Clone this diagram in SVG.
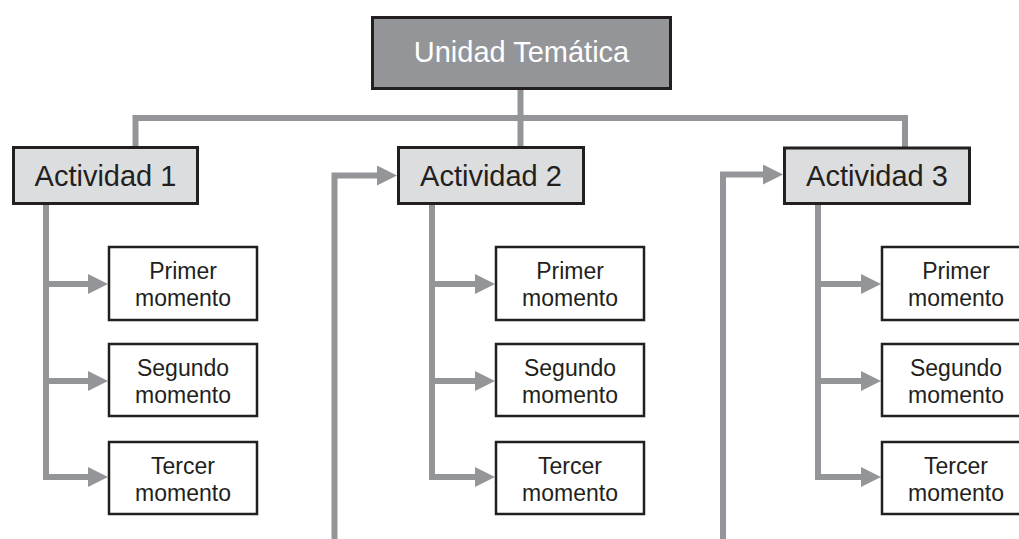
<svg xmlns="http://www.w3.org/2000/svg" width="1019" height="539" viewBox="0 0 1019 539">
<defs>
<style>
.ln{fill:none;stroke:#939598;stroke-width:6;stroke-linejoin:miter;stroke-linecap:butt}
.top{fill:#939598;stroke:#231f20;stroke-width:3}
.act{fill:#dcdddf;stroke:#231f20;stroke-width:3}
.mom{fill:#ffffff;stroke:#231f20;stroke-width:2.5}
.t1{font-family:"Liberation Sans",Arial,sans-serif;font-size:29px;text-anchor:middle}
.t2{font-family:"Liberation Sans",Arial,sans-serif;font-size:23px;text-anchor:middle;fill:#231f20}
</style>
<marker id="ah" markerUnits="userSpaceOnUse" markerWidth="20" markerHeight="20" refX="0" refY="10" orient="auto" viewBox="0 0 20 20">
<path d="M0,0 L20,10 L0,20 z" fill="#939598"/>
</marker>
</defs>
<rect width="1019" height="539" fill="#ffffff"/>
<g id="connectors">
<path class="ln" d="M520.5,90 V146"/>
<path class="ln" d="M135.5,147 V118 H905 V147"/>
<path class="ln" d="M46,205 V477"/>
<path class="ln" d="M432,205 V477"/>
<path class="ln" d="M818,205 V477"/>
<path class="ln" d="M43,284 H88" marker-end="url(#ah)"/>
<path class="ln" d="M43,381 H88" marker-end="url(#ah)"/>
<path class="ln" d="M43,477 H88" marker-end="url(#ah)"/>
<path class="ln" d="M429,284 H475" marker-end="url(#ah)"/>
<path class="ln" d="M429,381 H475" marker-end="url(#ah)"/>
<path class="ln" d="M429,477 H475" marker-end="url(#ah)"/>
<path class="ln" d="M815,284 H861" marker-end="url(#ah)"/>
<path class="ln" d="M815,381 H861" marker-end="url(#ah)"/>
<path class="ln" d="M815,477 H861" marker-end="url(#ah)"/>
<path class="ln" d="M334.5,539 V175.5 H377" marker-end="url(#ah)"/>
<path class="ln" d="M723,539 V174.5 H763" marker-end="url(#ah)"/>
</g>
<g id="unidad">
<rect class="top" x="372.5" y="17.5" width="298" height="71"/>
<text class="t1" x="521.5" y="62" fill="#ffffff">Unidad Temática</text>
</g>
<g id="actividad1">
<rect class="act" x="13.5" y="147.5" width="184" height="56"/>
<text class="t1" x="105.5" y="186" fill="#231f20">Actividad 1</text>
</g>
<g id="actividad2">
<rect class="act" x="398.5" y="147.5" width="185" height="56"/>
<text class="t1" x="491" y="186" fill="#231f20">Actividad 2</text>
</g>
<g id="actividad3">
<rect class="act" x="784.5" y="148" width="185" height="55.5"/>
<text class="t1" x="877" y="186" fill="#231f20">Actividad 3</text>
</g>
<g id="a1-primer">
<rect class="mom" x="109" y="247" width="148" height="73"/>
<text class="t2" x="183" y="279">Primer</text>
<text class="t2" x="183" y="306">momento</text>
</g>
<g id="a1-segundo">
<rect class="mom" x="109" y="344" width="148" height="72"/>
<text class="t2" x="183" y="376">Segundo</text>
<text class="t2" x="183" y="403">momento</text>
</g>
<g id="a1-tercer">
<rect class="mom" x="109" y="442" width="148" height="72"/>
<text class="t2" x="183" y="474">Tercer</text>
<text class="t2" x="183" y="501">momento</text>
</g>
<g id="a2-primer">
<rect class="mom" x="496" y="247" width="148" height="73"/>
<text class="t2" x="570" y="279">Primer</text>
<text class="t2" x="570" y="306">momento</text>
</g>
<g id="a2-segundo">
<rect class="mom" x="496" y="344" width="148" height="72"/>
<text class="t2" x="570" y="376">Segundo</text>
<text class="t2" x="570" y="403">momento</text>
</g>
<g id="a2-tercer">
<rect class="mom" x="496" y="442" width="148" height="72"/>
<text class="t2" x="570" y="474">Tercer</text>
<text class="t2" x="570" y="501">momento</text>
</g>
<g id="a3-primer">
<rect class="mom" x="882" y="247" width="148" height="73"/>
<text class="t2" x="956" y="279">Primer</text>
<text class="t2" x="956" y="306">momento</text>
</g>
<g id="a3-segundo">
<rect class="mom" x="882" y="344" width="148" height="72"/>
<text class="t2" x="956" y="376">Segundo</text>
<text class="t2" x="956" y="403">momento</text>
</g>
<g id="a3-tercer">
<rect class="mom" x="882" y="442" width="148" height="72"/>
<text class="t2" x="956" y="474">Tercer</text>
<text class="t2" x="956" y="501">momento</text>
</g>
</svg>
